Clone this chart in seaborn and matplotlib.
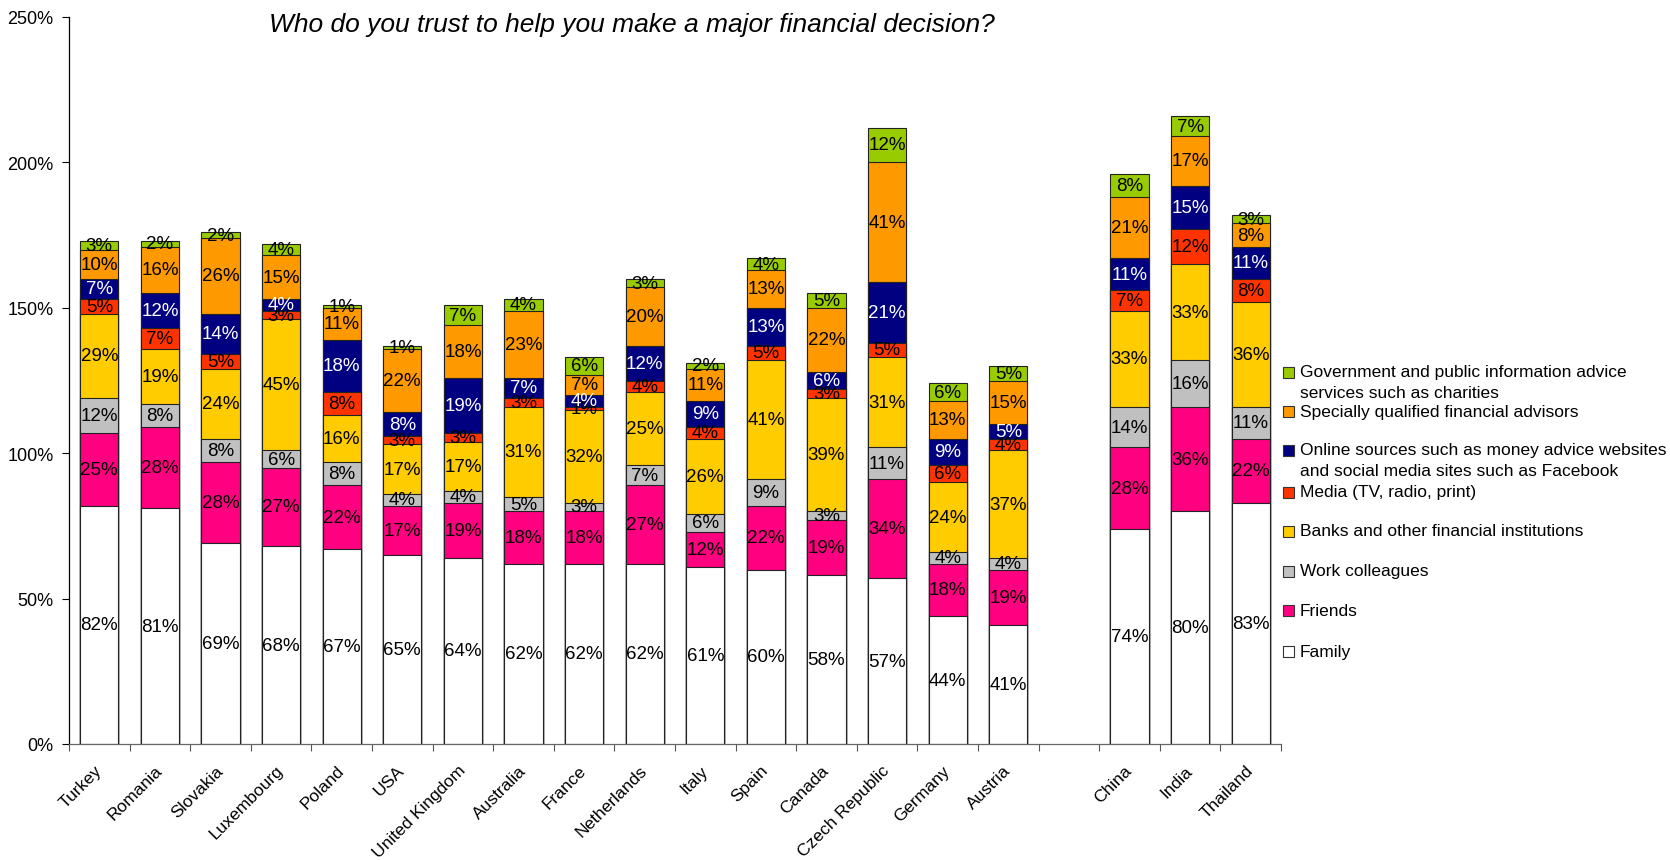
import numpy as np
import pandas as pd
import matplotlib
matplotlib.use("Agg")
import matplotlib.pyplot as plt
import seaborn as sns
from matplotlib.patches import Rectangle
from matplotlib.ticker import FixedLocator, FuncFormatter

# ---- data (percent of respondents, per source of advice) ----
countries = ["Turkey", "Romania", "Slovakia", "Luxembourg", "Poland", "USA",
             "United Kingdom", "Australia", "France", "Netherlands", "Italy",
             "Spain", "Canada", "Czech Republic", "Germany", "Austria",
             "China", "India", "Thailand"]

family     = [82, 81, 69, 68, 67, 65, 64, 62, 62, 62, 61, 60, 58, 57, 44, 41, 74, 80, 83]
friends    = [25, 28, 28, 27, 22, 17, 19, 18, 18, 27, 12, 22, 19, 34, 18, 19, 28, 36, 22]
work       = [12, 8, 8, 6, 8, 4, 4, 5, 3, 7, 6, 9, 3, 11, 4, 4, 14, 16, 11]
banks      = [29, 19, 24, 45, 16, 17, 17, 31, 32, 25, 26, 41, 39, 31, 24, 37, 33, 33, 36]
media      = [5, 7, 5, 3, 8, 3, 3, 3, 1, 4, 4, 5, 3, 5, 6, 4, 7, 12, 8]
online     = [7, 12, 14, 4, 18, 8, 19, 7, 4, 12, 9, 13, 6, 21, 9, 5, 11, 15, 11]
advisors   = [10, 16, 26, 15, 11, 22, 18, 23, 7, 20, 11, 13, 22, 41, 13, 15, 21, 17, 8]
government = [3, 2, 2, 4, 1, 1, 7, 4, 6, 3, 2, 4, 5, 12, 6, 5, 8, 7, 3]

series_names = [
    "Family",
    "Friends",
    "Work colleagues",
    "Banks and other financial institutions",
    "Media (TV, radio, print)",
    "Online sources such as money advice websites\nand social media sites such as Facebook",
    "Specially qualified financial advisors",
    "Government and public information advice\nservices such as charities",
]
series_values = [family, friends, work, banks, media, online, advisors, government]
series_colors = ["#FFFFFF", "#FF0080", "#C0C0C0", "#FFCC00",
                 "#FF3300", "#000080", "#FF9900", "#99CC00"]
label_colors = ["black", "black", "black", "black", "black", "white", "black", "black"]

title = "Who do you trust to help you make a major financial decision?"
gap = " "
order = countries[:16] + [gap] + countries[16:]

# ---- long table with stacked tops ----
rows = []
for c_i, country in enumerate(countries):
    top = 0
    for s_i, vals in enumerate(series_values):
        v = vals[c_i]
        top += v
        rows.append({"country": country, "layer": s_i, "value": v, "top": top})
df = pd.DataFrame(rows)

sns.set_theme(style="white")
plt.rcParams["font.family"] = ["Liberation Sans", "DejaVu Sans"]
plt.rcParams["text.color"] = "black"
plt.rcParams["xtick.color"] = "black"
plt.rcParams["ytick.color"] = "black"

W, H = 1670, 862
fig = plt.figure(figsize=(W / 100, H / 100), dpi=100)
ax = fig.add_axes([69 / W, 1 - 745 / H, (1281 - 69) / W, (745 - 18) / H])

# stacked bars: draw cumulative tops from the highest layer down
for s_i in range(len(series_names) - 1, -1, -1):
    sub = df[df["layer"] == s_i]
    sns.barplot(data=sub, x="country", y="top", order=order,
                color=series_colors[s_i], saturation=1, width=0.63,
                edgecolor="#222222", linewidth=0.8, errorbar=None, ax=ax)

# value labels in the middle of each segment
for _, r in df.iterrows():
    xpos = order.index(r["country"])
    ax.text(xpos, r["top"] - r["value"] / 2, f"{r['value']}%",
            ha="center", va="center", fontsize=13.5,
            color=label_colors[r["layer"]])

ax.set_ylim(0, 250)
ax.set_xlim(-0.5, len(order) - 0.5)
ax.yaxis.set_major_locator(FixedLocator([0, 50, 100, 150, 200, 250]))
ax.yaxis.set_major_formatter(FuncFormatter(lambda v, p: f"{int(v)}%"))
ax.tick_params(axis="y", which="major", direction="out", length=5, width=0.8,
               color="black", labelsize=13, pad=6, left=True)

ax.set_xticks(range(len(order)))
ax.set_xticklabels(order, rotation=45, ha="right", va="center",
                   rotation_mode="anchor", fontsize=12.5)
ax.tick_params(axis="x", which="major", length=0, pad=17)
ax.set_xticks(np.arange(-0.5, len(order), 1.0), minor=True)
ax.tick_params(axis="x", which="minor", direction="out", length=5, width=0.8,
               color="#555555", bottom=True)

ax.set_xlabel("")
ax.set_ylabel("")
for side in ["top", "right"]:
    ax.spines[side].set_visible(False)
ax.spines["left"].set_color("black")
ax.spines["left"].set_linewidth(0.9)
ax.spines["bottom"].set_color("#666666")
ax.spines["bottom"].set_linewidth(0.9)
ax.grid(False)

fig.text(632 / W, 1 - 25 / H, title, ha="center", va="center",
         fontsize=19, style="italic")

# legend, top entry first
legend_y = [373, 412, 451, 493, 532, 572, 611, 652]
for k, s_i in enumerate(range(len(series_names) - 1, -1, -1)):
    yc = legend_y[k]
    fig.add_artist(Rectangle((1283 / W, 1 - (yc + 5.5) / H), 11 / W, 11 / H,
                             transform=fig.transFigure,
                             facecolor=series_colors[s_i],
                             edgecolor="#333333", linewidth=0.8))
    for j, line in enumerate(series_names[s_i].split("\n")):
        fig.text(1300 / W, 1 - (yc + j * 21) / H, line, ha="left",
                 va="center", fontsize=12.5)

fig.savefig("out.png", dpi=100)
